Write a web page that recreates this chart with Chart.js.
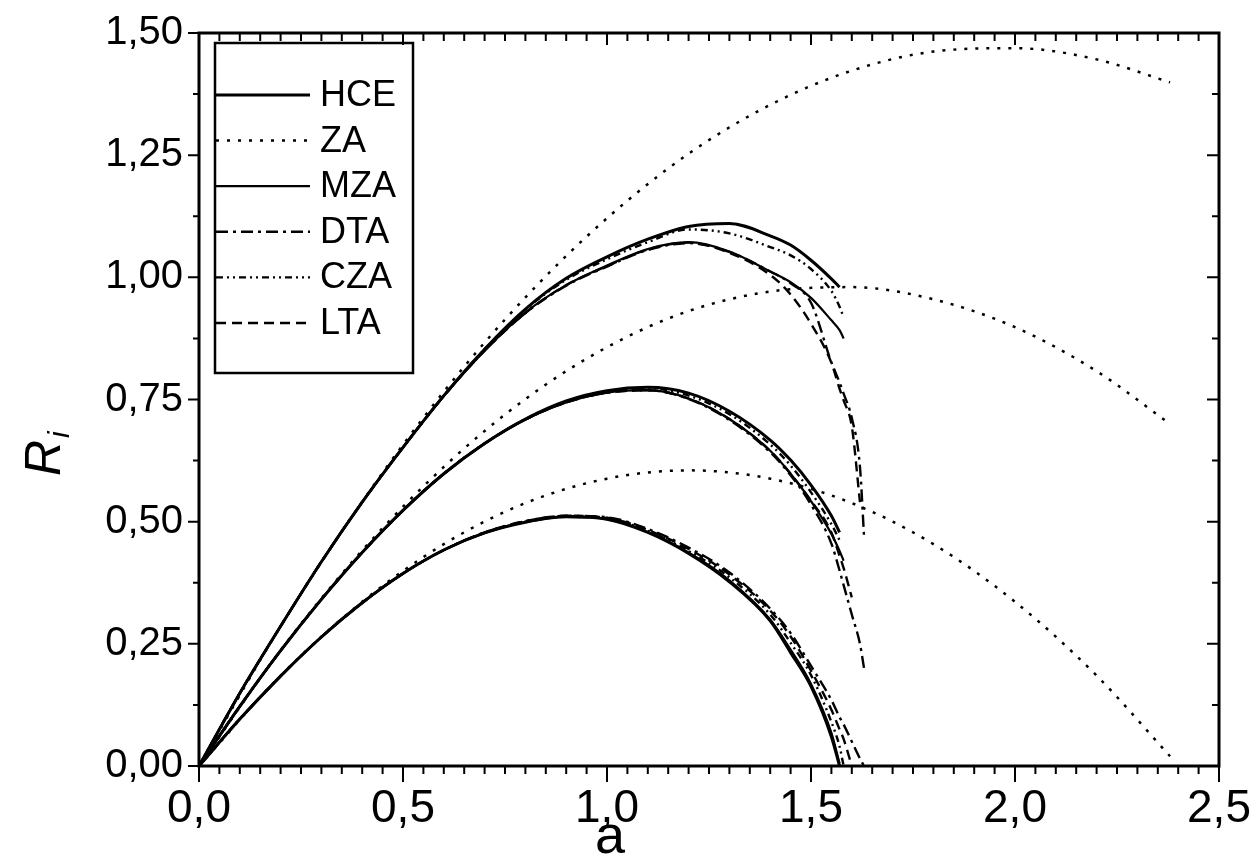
<!DOCTYPE html>
<html>
<head>
<meta charset="utf-8">
<script src="https://cdn.jsdelivr.net/npm/chart.js@4.4.0/dist/chart.umd.min.js"></script>
<style>
html, body { margin: 0; padding: 0; background: #fff; }
#wrap { width: 1250px; height: 856px; }
</style>
</head>
<body>
<div id="wrap"><canvas id="myChart" width="1250" height="856"></canvas></div>
<script>
// eixo a comum das curvas (exceto ZA)
var aGrid = [0, 0.1, 0.2, 0.3, 0.4, 0.5, 0.6, 0.7, 0.8, 0.9, 1.0, 1.1, 1.2, 1.3, 1.4, 1.45, 1.5, 1.55, 1.57, 1.58, 1.6, 1.62, 1.63];
// eixo a das curvas ZA
var zaGrid = [0, 0.2, 0.4, 0.6, 0.8, 1.0, 1.2, 1.4, 1.6, 1.8, 2.0, 2.2, 2.38];

// grupo de cima
var hceTop = [0, 0.149, 0.286, 0.418, 0.540, 0.652, 0.758, 0.853, 0.935, 0.998, 1.042, 1.078, 1.104, 1.110, 1.085, 1.066, 1.035, 0.997, 0.980, null, null, null, null];
var zaTop  = [0, 0.286, 0.541, 0.766, 0.959, 1.121, 1.253, 1.353, 1.423, 1.462, 1.469, 1.446, 1.399];
var mzaTop = [0, 0.149, 0.286, 0.418, 0.540, 0.652, 0.757, 0.850, 0.928, 0.984, 1.024, 1.058, 1.072, 1.053, 1.012, 0.990, 0.958, 0.912, 0.892, 0.875, null, null, null];
var dtaTop = [0, 0.149, 0.286, 0.418, 0.540, 0.652, 0.757, 0.850, 0.927, 0.983, 1.022, 1.056, 1.070, 1.052, 1.012, 0.988, 0.948, 0.826, 0.785, 0.762, 0.712, 0.612, 0.470];
var czaTop = [0, 0.149, 0.286, 0.418, 0.540, 0.652, 0.758, 0.853, 0.934, 0.995, 1.037, 1.072, 1.098, 1.090, 1.062, 1.045, 1.017, 0.972, 0.940, 0.918, null, null, null];
var ltaTop = [0, 0.149, 0.286, 0.418, 0.540, 0.652, 0.757, 0.850, 0.927, 0.984, 1.023, 1.057, 1.071, 1.050, 1.005, 0.965, 0.905, 0.825, 0.772, 0.748, 0.695, 0.540, null];

// grupo do meio
var hceMid = [0, 0.122, 0.236, 0.341, 0.437, 0.523, 0.598, 0.660, 0.710, 0.747, 0.768, 0.775, 0.763, 0.726, 0.667, 0.626, 0.575, 0.512, 0.478, null, null, null, null];
var zaMid  = [0, 0.237, 0.441, 0.612, 0.751, 0.857, 0.931, 0.971, 0.980, 0.955, 0.898, 0.808, 0.700];
var mzaMid = [0, 0.122, 0.236, 0.341, 0.437, 0.523, 0.598, 0.660, 0.709, 0.744, 0.764, 0.769, 0.752, 0.710, 0.645, 0.598, 0.542, 0.475, 0.440, 0.420, null, null, null];
var dtaMid = [0, 0.122, 0.236, 0.341, 0.437, 0.523, 0.598, 0.660, 0.709, 0.744, 0.764, 0.769, 0.751, 0.708, 0.642, 0.595, 0.535, 0.455, 0.400, 0.370, 0.310, 0.250, 0.200];
var czaMid = [0, 0.122, 0.236, 0.341, 0.437, 0.523, 0.598, 0.660, 0.710, 0.746, 0.767, 0.773, 0.758, 0.720, 0.658, 0.615, 0.560, 0.495, 0.462, null, null, null, null];
var ltaMid = [0, 0.122, 0.236, 0.341, 0.437, 0.523, 0.598, 0.660, 0.709, 0.744, 0.764, 0.769, 0.752, 0.710, 0.645, 0.598, 0.543, 0.478, 0.430, 0.405, 0.345, null, null];

// grupo de baixo
var hceBot = [0, 0.096, 0.184, 0.264, 0.334, 0.394, 0.442, 0.477, 0.499, 0.510, 0.505, 0.478, 0.435, 0.377, 0.297, 0.232, 0.163, 0.060, 0.000, null, null, null, null];
var zaBot  = [0, 0.185, 0.336, 0.454, 0.538, 0.588, 0.605, 0.588, 0.538, 0.454, 0.336, 0.185, 0.020];
var mzaBot = [0, 0.096, 0.184, 0.264, 0.334, 0.394, 0.442, 0.477, 0.499, 0.510, 0.505, 0.479, 0.437, 0.380, 0.300, 0.238, 0.168, 0.068, 0.005, null, null, null, null];
var dtaBot = [0, 0.096, 0.184, 0.264, 0.334, 0.394, 0.442, 0.478, 0.501, 0.512, 0.509, 0.485, 0.447, 0.396, 0.322, 0.272, 0.205, 0.135, 0.100, 0.085, 0.050, 0.015, 0.000];
var czaBot = [0, 0.096, 0.184, 0.264, 0.334, 0.394, 0.442, 0.477, 0.500, 0.511, 0.507, 0.481, 0.440, 0.386, 0.310, 0.252, 0.186, 0.090, 0.040, 0.000, null, null, null];
var ltaBot = [0, 0.096, 0.184, 0.264, 0.334, 0.394, 0.442, 0.478, 0.501, 0.512, 0.508, 0.483, 0.444, 0.392, 0.318, 0.265, 0.195, 0.115, 0.075, 0.055, 0.000, null, null];

var nomes = ['HCE', 'ZA', 'MZA', 'DTA', 'CZA', 'LTA'];
var xTicks = [0, 0.5, 1.0, 1.5, 2.0, 2.5];
var yTicks = [0, 0.25, 0.5, 0.75, 1.0, 1.25, 1.5];

// estilo de cada aproximação
var estilos = {
    HCE: { dash: [], width: 3 },
    ZA:  { dash: [3, 8], width: 2.5 },
    MZA: { dash: [], width: 2.2 },
    DTA: { dash: [12, 5, 3, 5], width: 2.4 },
    CZA: { dash: [7, 4, 2, 4, 2, 4], width: 2.4 },
    LTA: { dash: [10, 6], width: 2.4 }
};

function pontos(xs, ys) {
    var out = [];
    for (var i = 0; i < xs.length; i++) {
        if (ys[i] !== null) out.push({ x: xs[i], y: ys[i] });
    }
    return out;
}

function serie(nome, xs, ys) {
    return {
        label: nome,
        data: pontos(xs, ys),
        borderColor: '#000',
        borderWidth: estilos[nome].width,
        borderDash: estilos[nome].dash,
        pointRadius: 0,
        fill: false,
        cubicInterpolationMode: 'monotone'
    };
}

var datasets = [
    serie('HCE', aGrid, hceTop), serie('ZA', zaGrid, zaTop), serie('MZA', aGrid, mzaTop),
    serie('DTA', aGrid, dtaTop), serie('CZA', aGrid, czaTop), serie('LTA', aGrid, ltaTop),
    serie('HCE', aGrid, hceMid), serie('ZA', zaGrid, zaMid), serie('MZA', aGrid, mzaMid),
    serie('DTA', aGrid, dtaMid), serie('CZA', aGrid, czaMid), serie('LTA', aGrid, ltaMid),
    serie('HCE', aGrid, hceBot), serie('ZA', zaGrid, zaBot), serie('MZA', aGrid, mzaBot),
    serie('DTA', aGrid, dtaBot), serie('CZA', aGrid, czaBot), serie('LTA', aGrid, ltaBot)
];

// moldura, marcas dos eixos, legenda e títulos
var moldura = {
    id: 'moldura',
    afterDraw: function (chart) {
        var ctx = chart.ctx, ca = chart.chartArea;
        var sx = chart.scales.x, sy = chart.scales.y;
        ctx.save();
        ctx.strokeStyle = '#000';
        ctx.lineWidth = 2;
        var i, v, px, major;
        for (i = 0; i <= 50; i++) {
            v = i * 0.05;
            px = sx.getPixelForValue(v);
            major = (i % 10 === 0);
            ctx.beginPath();
            ctx.moveTo(px, ca.bottom);
            ctx.lineTo(px, ca.bottom + (major ? 16 : 8));
            ctx.moveTo(px, ca.top);
            ctx.lineTo(px, ca.top + (major ? 12 : 8));
            ctx.stroke();
        }
        for (i = 0; i <= 12; i++) {
            v = i * 0.125;
            px = sy.getPixelForValue(v);
            major = (i % 2 === 0);
            ctx.beginPath();
            ctx.moveTo(ca.left, px);
            ctx.lineTo(ca.left - (major ? 11 : 6), px);
            ctx.moveTo(ca.right, px);
            ctx.lineTo(ca.right - (major ? 12 : 7), px);
            ctx.stroke();
        }
        ctx.lineWidth = 3;
        ctx.strokeRect(ca.left, ca.top, ca.right - ca.left, ca.bottom - ca.top);

        // legenda
        ctx.lineWidth = 2.5;
        ctx.strokeRect(215, 43, 198, 330);
        ctx.font = '36px "Liberation Sans", Arial, sans-serif';
        ctx.fillStyle = '#000';
        ctx.textBaseline = 'middle';
        ctx.textAlign = 'left';
        for (i = 0; i < nomes.length; i++) {
            var y = 95 + i * 45.6;
            var st = estilos[nomes[i]];
            ctx.beginPath();
            ctx.setLineDash(st.dash);
            ctx.lineWidth = st.width;
            ctx.moveTo(216, y);
            ctx.lineTo(310, y);
            ctx.stroke();
            ctx.setLineDash([]);
            ctx.fillText(nomes[i], 320, y + 1);
        }

        // título do eixo x
        ctx.font = '54px "Liberation Sans", Arial, sans-serif';
        ctx.textAlign = 'center';
        ctx.textBaseline = 'alphabetic';
        ctx.fillText('a', 610, 853);

        // título do eixo y: R com índice i
        ctx.translate(46, 458);
        ctx.rotate(-Math.PI / 2);
        ctx.font = 'italic 50px "Liberation Sans", Arial, sans-serif';
        var w = ctx.measureText('R').width;
        ctx.textBaseline = 'middle';
        ctx.fillText('R', 0, 0);
        ctx.font = 'italic 30px "Liberation Sans", Arial, sans-serif';
        ctx.textAlign = 'left';
        ctx.fillText('i', w / 2 + 2, 15);
        ctx.restore();
    }
};

var ctx = document.getElementById('myChart');
var myChart = new Chart(ctx, {
    type: 'line',
    data: { datasets: datasets },
    options: {
        responsive: false,
        animation: false,
        layout: { padding: { top: 33, right: 31, left: 0, bottom: 0 } },
        plugins: { legend: { display: false }, tooltip: { enabled: false } },
        scales: {
            x: {
                type: 'linear',
                min: 0, max: 2.5,
                afterBuildTicks: function (scale) { scale.ticks = xTicks.map(function (v) { return { value: v }; }); },
                afterFit: function (scale) { scale.height = 90; scale.paddingLeft = 0; scale.paddingRight = 0; },
                grid: { display: false, drawTicks: false },
                border: { display: false },
                ticks: {
                    padding: 16,
                    color: '#000',
                    font: { size: 46, family: '"Liberation Sans", Arial, sans-serif' },
                    callback: function (v) { return v.toFixed(1).replace('.', ','); }
                }
            },
            y: {
                type: 'linear',
                min: 0, max: 1.5,
                afterBuildTicks: function (scale) { scale.ticks = yTicks.map(function (v) { return { value: v }; }); },
                afterFit: function (scale) { scale.width = 199; scale.paddingTop = 0; scale.paddingBottom = 0; },
                grid: { display: false, drawTicks: false },
                border: { display: false },
                ticks: {
                    padding: 16,
                    color: '#000',
                    font: { size: 40, family: '"Liberation Sans", Arial, sans-serif' },
                    callback: function (v) { return v.toFixed(2).replace('.', ','); }
                }
            }
        }
    },
    plugins: [moldura]
});
</script>
</body>
</html>
